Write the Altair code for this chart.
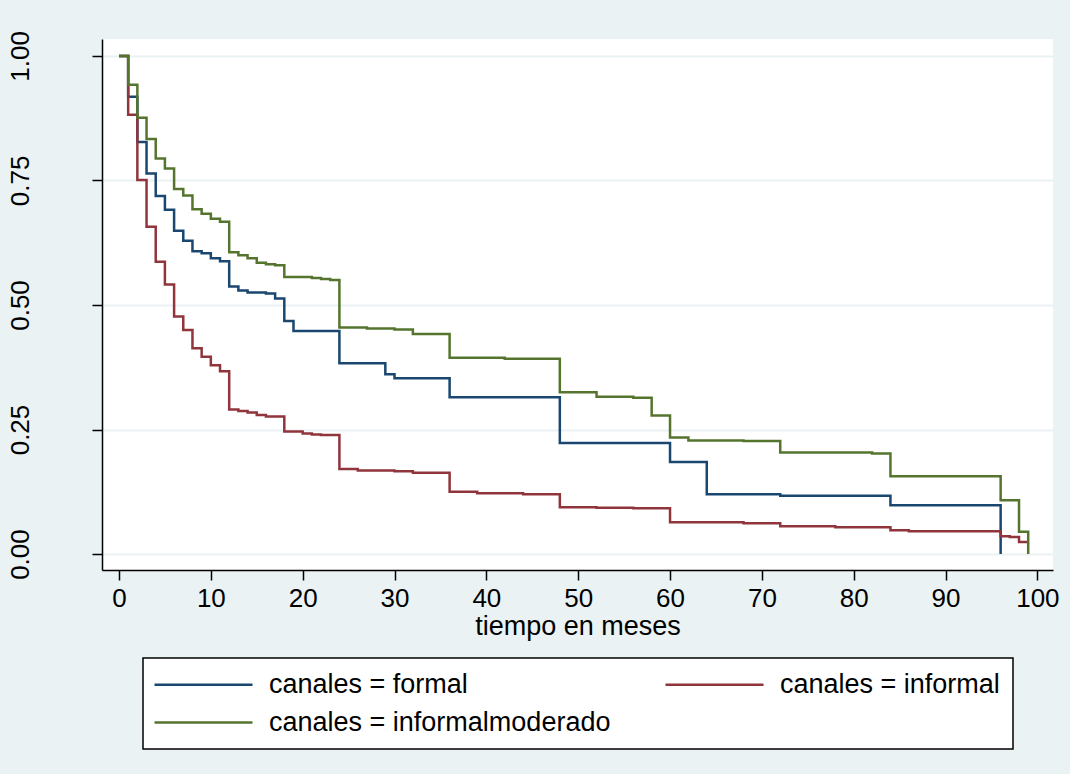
import altair as alt
import pandas as pd

# Kaplan-Meier survival estimates by channel (time in months)
formal_t = [0, 1, 2, 3, 4, 5, 6, 7, 8, 9, 10, 11, 12, 13, 14, 16, 17, 18, 19,
            24, 29, 30, 36, 48, 60, 64, 72, 84, 96]
formal_s = [1.0, 0.918, 0.827, 0.764, 0.719, 0.691, 0.649, 0.629, 0.608, 0.604,
            0.594, 0.588, 0.537, 0.529, 0.525, 0.523, 0.513, 0.468, 0.448,
            0.383, 0.361, 0.353, 0.315, 0.223, 0.185, 0.120, 0.117, 0.098, 0.0]

informal_t = [0, 1, 2, 3, 4, 5, 6, 7, 8, 9, 10, 11, 12, 13, 14, 15, 16, 18,
              20, 21, 22, 24, 26, 30, 32, 36, 39, 44, 48, 52, 56, 60, 68, 72,
              78, 84, 86, 96, 97, 98, 99]
informal_s = [1.0, 0.882, 0.751, 0.657, 0.587, 0.541, 0.477, 0.450, 0.413,
              0.396, 0.379, 0.367, 0.290, 0.287, 0.284, 0.279, 0.276, 0.246,
              0.242, 0.240, 0.239, 0.171, 0.168, 0.166, 0.163, 0.125, 0.122,
              0.120, 0.094, 0.093, 0.092, 0.064, 0.062, 0.056, 0.054, 0.048,
              0.046, 0.036, 0.034, 0.024, 0.024]

moderado_t = [0, 1, 2, 3, 4, 5, 6, 7, 8, 9, 10, 11, 12, 13, 14, 15, 16, 17,
              18, 21, 22, 23, 24, 27, 30, 32, 36, 42, 48, 52, 56, 58, 60, 62,
              68, 72, 82, 84, 96, 98, 99]
moderado_s = [1.0, 0.942, 0.876, 0.833, 0.794, 0.774, 0.733, 0.720, 0.692,
              0.683, 0.673, 0.667, 0.606, 0.600, 0.594, 0.585, 0.582, 0.580,
              0.556, 0.554, 0.552, 0.550, 0.455, 0.453, 0.451, 0.442, 0.394,
              0.392, 0.325, 0.316, 0.314, 0.278, 0.234, 0.228, 0.227, 0.204,
              0.202, 0.156, 0.108, 0.045, 0.0]

groups = ["canales = formal", "canales = informal", "canales = informalmoderado"]
colors = ["#1a476f", "#90353b", "#55752f"]
x_ticks = [0, 10, 20, 30, 40, 50, 60, 70, 80, 90, 100]
y_ticks = [0.0, 0.25, 0.5, 0.75, 1.0]

rows = []
for name, ts, ss in zip(groups, [formal_t, informal_t, moderado_t],
                        [formal_s, informal_s, moderado_s]):
    for t, s in zip(ts, ss):
        rows.append({"tiempo": t, "superv": s, "grupo": name})
df = pd.DataFrame(rows)

FONT = "Liberation Sans"

# long horizontal legend key: a line running from the symbol's left edge
# far to the right, so the entry row keeps the height of the text
legend_key = "M-1.5,0H8.3"

chart = alt.Chart(df).mark_line(
    interpolate="step-after", strokeWidth=2.5
).encode(
    x=alt.X(
        "tiempo:Q",
        scale=alt.Scale(domain=[-1.85, 101.7], nice=False, zero=False),
        axis=alt.Axis(
            title="tiempo en meses", values=x_ticks, grid=False,
            labelFontSize=26, titleFontSize=27, titleFontWeight="normal",
            labelPadding=5, titlePadding=2, tickSize=10,
            labelFlush=False, labelOverlap=False,
        ),
    ),
    y=alt.Y(
        "superv:Q",
        scale=alt.Scale(domain=[-0.032, 1.034], nice=False, zero=False),
        axis=alt.Axis(
            title=None, values=y_ticks, format=".2f", grid=True,
            gridColor="#EAF2F3", gridWidth=2,
            labelAngle=270, labelAlign="center", labelBaseline="alphabetic",
            labelFontSize=26, labelPadding=64, tickSize=10,
            labelFlush=False, labelOverlap=False,
        ),
    ),
    color=alt.Color(
        "grupo:N",
        scale=alt.Scale(domain=groups, range=colors),
        legend=alt.Legend(
            title=None, orient="none", legendX=41, legendY=619,
            direction="horizontal", columns=2, columnPadding=49, rowPadding=10,
            symbolType=legend_key, symbolSize=400, symbolStrokeWidth=2.5,
            labelFontSize=27, labelOffset=86, labelLimit=0,
            padding=13, strokeColor="#000000", fillColor="#FFFFFF",
        ),
    ),
).properties(
    width=951,
    height=531,
    autosize=alt.AutoSizeParams(type="none"),
    padding={"left": 102, "top": 39, "right": 17, "bottom": 204},
    background="#EAF2F3",
).configure_view(
    fill="#FFFFFF", strokeWidth=0
).configure_axis(
    domainColor="#000000", domainWidth=1.5, tickColor="#000000", tickWidth=1.5,
    labelColor="#000000", titleColor="#000000", labelFont=FONT, titleFont=FONT,
).configure_legend(
    labelFont=FONT, labelColor="#000000", strokeWidth=1.5
)

chart.save("out.html", embed_options={"renderer": "svg", "actions": False})
